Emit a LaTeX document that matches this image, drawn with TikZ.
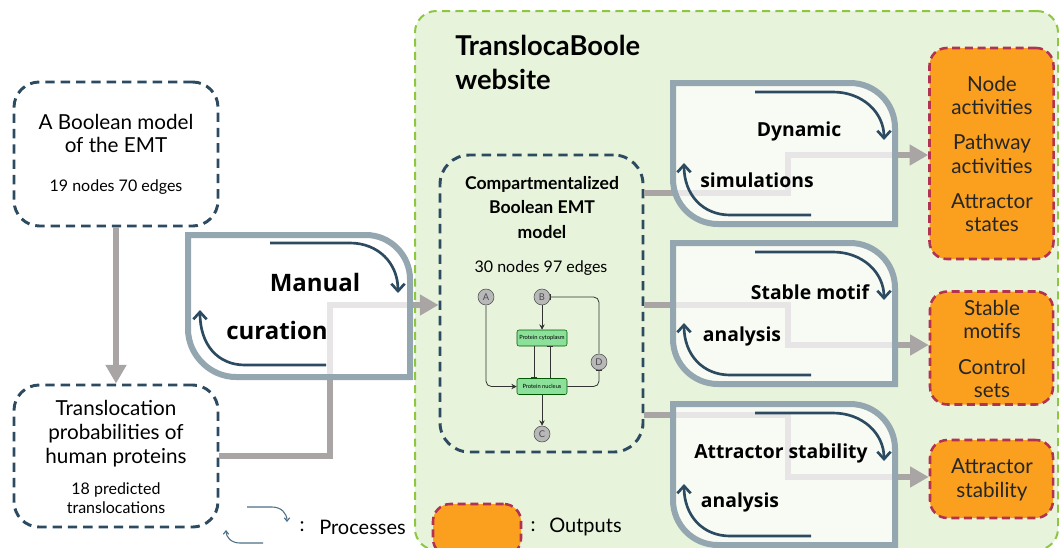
\documentclass[tikz,border=0pt]{standalone}
\usepackage{fontspec}
\setmainfont{Lato}
\newfontfamily\procfont{Open Sans}
\usetikzlibrary{arrows.meta}
\definecolor{navy}{HTML}{2C4B61}
\definecolor{flowgray}{HTML}{A9A5A5}
\definecolor{procgray}{HTML}{94A6AF}
\definecolor{webfill}{HTML}{E7F4DB}
\definecolor{webline}{HTML}{8DC63F}
\definecolor{orng}{HTML}{FA9F1E}
\definecolor{crim}{HTML}{B2334F}
\definecolor{minigreen}{HTML}{8BE09A}
\definecolor{legblue}{HTML}{4D6F85}
\begin{document}
\begin{tikzpicture}[x=0.75pt,y=-0.75pt,
  inbox/.style={draw=navy, line width=2.2pt, dash pattern=on 7pt off 4.5pt, rounded corners=19pt, inner sep=0pt},
  outbox/.style={draw=crim, fill=orng, line width=1.9pt, dash pattern=on 6pt off 3.5pt, rounded corners=13pt, inner sep=0pt},
  webbox/.style={draw=webline, fill=webfill, line width=1.5pt, dash pattern=on 6pt off 4pt, rounded corners=16pt, inner sep=0pt},
  flow/.style={draw=flowgray, line width=5pt, -{Triangle[length=14pt,width=15pt]}},
  procbox/.style={draw=procgray, line width=4.5pt, fill=white, fill opacity=0.72},
  procarrow/.style={draw=navy, line width=2pt, -{Straight Barb[length=5.5pt,width=10pt]}},
  legarrow/.style={draw=legblue, line width=0.8pt, -{Straight Barb[length=2.5pt,width=4pt]}},
  proclabel/.style={font=\procfont\bfseries\fontsize{14.5}{17}\selectfont, inner sep=0pt},
  maintext/.style={align=center, inner sep=0pt, font=\fontsize{15.5}{17.5}\selectfont},
  smalltext/.style={align=center, inner sep=0pt, font=\fontsize{12}{14.25}\selectfont},
  outtext/.style={align=center, inner sep=0pt, font=\fontsize{15.5}{17.5}\selectfont, text=black!85},
  mcirc/.style={circle, draw=black!70, fill=black!28, inner sep=0pt, minimum size=12pt, font=\fontsize{7}{7}\selectfont, text=black!70},
  mbox/.style={draw=green!35!black, fill=minigreen, rounded corners=1.5pt, minimum width=37.5pt, minimum height=12pt, inner sep=0pt, font=\fontsize{4.3}{4.3}\selectfont},
  medge/.style={draw=black!80, line width=0.6pt}
]
\clip (0,0) rectangle (1059,547);
\fill[white] (0,0) rectangle (1059,547);

% website region
\node[webbox, anchor=north west, minimum width=482.25pt, minimum height=404.25pt] (web) at (414,10) {};
\node[anchor=base west, inner sep=0pt, font=\bfseries\fontsize{20.5}{22}\selectfont] (webt1) at (455,55) {TranslocaBoole};
\node[anchor=base west, inner sep=0pt, font=\bfseries\fontsize{20.5}{22}\selectfont] (webt2) at (455,89) {website};

% input boxes
\node[inbox, minimum width=153pt, minimum height=108pt] (b1) at (116,154) {};
\node[maintext] (b1t) at (116,133.5) {A Boolean model\\of the EMT};
\node[smalltext] (b1s) at (116,187) {19 nodes 70 edges};

\node[inbox, minimum width=153pt, minimum height=106.5pt] (b2) at (116,456) {};
\node[maintext, font=\fontsize{15.5}{18}\selectfont] (b2t) at (116,434) {Translocation\\probabilities of\\human proteins};
\node[smalltext] (b2s) at (116,498.5) {18 predicted\\translocations};

% compartmentalized model
\node[inbox, minimum width=152.25pt, minimum height=222.75pt, rounded corners=22pt] (comp) at (541.5,303.5) {};
\node[align=center, inner sep=0pt, font=\bfseries\fontsize{13.2}{18.4}\selectfont] (compt) at (542,207.5) {Compartmentalized\\Boolean EMT\\model};
\node[smalltext] (comps) at (541,268) {30 nodes 97 edges};

% mini network
\node[mcirc] (mA) at (486,297) {A};
\node[mcirc] (mB) at (542,297) {B};
\node[mbox] (mcyt) at (542,338) {Protein cytoplasm};
\node[mbox] (mnuc) at (542,386.5) {Protein nucleus};
\node[mcirc] (mD) at (599,362) {D};
\node[mcirc] (mC) at (542,434) {C};
\draw[medge, -{Stealth[length=4pt,width=4pt]}, rounded corners=4pt] (mA) |- (mnuc.west);
\draw[medge, -{Stealth[length=4pt,width=4pt]}] (mB) -- (mcyt);
\draw[medge, -{Bar[width=5pt]}] ([xshift=-6pt]mcyt.south) -- ([xshift=-6pt]mnuc.north);
\draw[medge, -{Bar[width=5pt]}] ([xshift=6pt]mnuc.north) -- ([xshift=6pt]mcyt.south);
\draw[medge, -{Bar[width=5pt]}, rounded corners=4pt] (mnuc.east) -| (mD.south);
\draw[medge, -{Bar[width=5pt]}, rounded corners=4pt] (mD.north) |- (mB.east);
\draw[medge, -{Stealth[length=4pt,width=4pt]}] (mnuc.south) -- (mC.north);

% output boxes
\node[outbox, minimum width=93pt, minimum height=158.25pt] (out1) at (991.5,153.5) {};
\node[outtext] (out1t) at (992,154) {Node\\activities\\[9pt]Pathway\\activities\\[9pt]Attractor\\states};
\node[outbox, minimum width=92.25pt, minimum height=84.75pt] (out2) at (991.5,348) {};
\node[outtext] (out2t) at (992,349) {Stable\\motifs\\[9pt]Control\\sets};
\node[outbox, minimum width=92.25pt, minimum height=58.5pt] (out3) at (991.5,479) {};
\node[outtext] (out3t) at (992,480) {Attractor\\stability};

% flows
\coordinate (m1) at (330,305);
\draw[flow] (b1.south) -- (b2.north);
\draw[flow] (b2.east) -| (m1) -- (comp.west |- m1);
\coordinate (d1) at (788,193);
\coordinate (d2) at (788,305);
\coordinate (d3) at (788,415);
\draw[flow] (comp.east |- d1) -- (d1) |- (out1.west |- 0,155);
\draw[flow] (comp.east |- d2) -- (d2) |- (out2.west |- 0,345);
\draw[flow] (comp.east |- d3) -- (d3) |- (out3.west |- 0,477);

% process boxes
\draw[procbox] (188,235) -- (366,235) .. controls (390,235) and (410,255) .. (410,279) -- (410,377) -- (236,377) .. controls (210,377) and (188,355) .. (188,329) -- cycle;
\draw[procarrow] (270,243) -- (350,243) .. controls (378,243) and (398,263) .. (398,293);
\draw[procarrow] (326,365) -- (245,365) .. controls (218,365) and (200,345) .. (200,310);
\node[proclabel, font=\procfont\bfseries\fontsize{18}{20}\selectfont] (pm1) at (315,282) {Manual};
\node[proclabel, font=\procfont\bfseries\fontsize{18}{20}\selectfont] (pm2) at (277,330) {curation};

\draw[procbox] (673,83) -- (850,83) .. controls (875,83) and (895,103) .. (895,128) -- (895,224) -- (718,224) .. controls (693,224) and (673,204) .. (673,179) -- cycle;
\draw[procarrow] (755,92) -- (833,92) .. controls (862,92) and (884,112) .. (884,140);
\draw[procarrow] (811,215) -- (730,215) .. controls (703,215) and (684,195) .. (684,163);
\node[proclabel] (pd1) at (799,131) {Dynamic};
\node[proclabel] (pd2) at (757,180) {simulations};

\draw[procbox] (673,243) -- (850,243) .. controls (875,243) and (895,263) .. (895,288) -- (895,384) -- (718,384) .. controls (693,384) and (673,364) .. (673,339) -- cycle;
\draw[procarrow] (755,252) -- (833,252) .. controls (862,252) and (884,272) .. (884,300);
\draw[procarrow] (811,375) -- (730,375) .. controls (703,375) and (684,355) .. (684,323);
\node[proclabel] (ps1) at (810,292) {Stable motif};
\node[proclabel] (ps2) at (742,336) {analysis};

\draw[procbox] (673,404) -- (850,404) .. controls (875,404) and (895,424) .. (895,449) -- (895,545) -- (718,545) .. controls (693,545) and (673,525) .. (673,500) -- cycle;
\draw[procarrow] (755,413) -- (833,413) .. controls (862,413) and (884,433) .. (884,461);
\draw[procarrow] (811,536) -- (730,536) .. controls (703,536) and (684,516) .. (684,484);
\node[proclabel] (pa1) at (781,453) {Attractor stability};
\node[proclabel] (pa2) at (740,502) {analysis};

% legend
\draw[legarrow] (247,507) -- (272,507) .. controls (281,507) and (287,513) .. (287,522);
\draw[legarrow] (263,543) -- (240,543) .. controls (231,543) and (226,537) .. (226,530);
\node[inner sep=0pt, font=\fontsize{15}{17}\selectfont] (lc1) at (302,527) {:};
\node[anchor=west, inner sep=0pt, font=\fontsize{15}{17}\selectfont] (lp) at (319,527) {Processes};
\node[outbox, minimum width=66pt, minimum height=39pt] (lbox) at (477,530) {};
\node[inner sep=0pt, font=\fontsize{15}{17}\selectfont] (lc2) at (533,527) {:};
\node[anchor=west, inner sep=0pt, font=\fontsize{15}{17}\selectfont] (lo) at (549,527) {Outputs};
\end{tikzpicture}
\end{document}
